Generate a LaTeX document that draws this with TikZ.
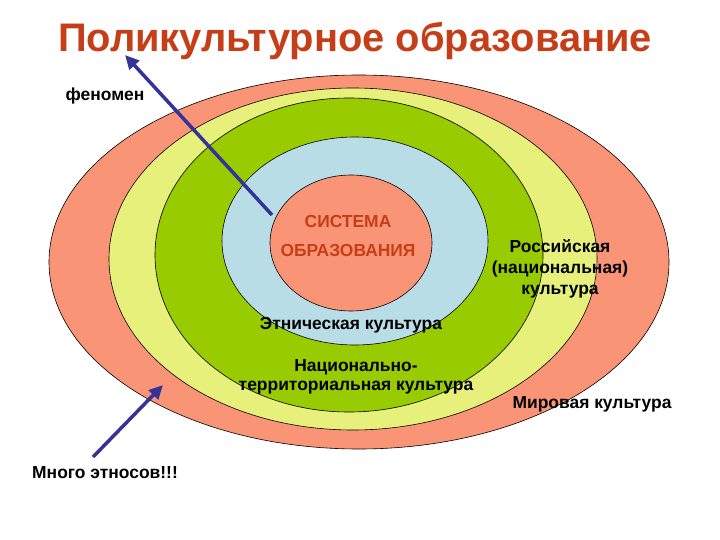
\documentclass[tikz,border=0pt]{standalone}
\usepackage{fontspec}
\setmainfont{Liberation Sans}
\usetikzlibrary{arrows.meta}
\definecolor{ringsalmon}{RGB}{250,148,118}
\definecolor{ringyellow}{RGB}{230,240,122}
\definecolor{ringgreen}{RGB}{153,204,0}
\definecolor{ringblue}{RGB}{185,221,230}
\definecolor{titlered}{RGB}{198,62,24}
\definecolor{arrowblue}{RGB}{51,51,153}
\tikzset{
	ring/.style={draw=black, line width=0.6bp},
	lbl/.style={font=\bfseries\fontsize{17.5}{21}\selectfont, align=center, inner sep=0pt},
	pointer/.style={draw=arrowblue, line width=3.5bp, -{Triangle[length=14bp,width=13bp]}}
}
\begin{document}
\begin{tikzpicture}[x=1bp,y=-1bp]
			%%%%% START %%%%%
			\useasboundingbox (0,0) rectangle (720,540);
			
			\draw[ring, fill=ringsalmon] (359,262) ellipse [x radius=310bp, y radius=187bp];
			\draw[ring, fill=ringyellow] (353,259) ellipse [x radius=244bp, y radius=171bp];
			\draw[ring, fill=ringgreen] (349,255) ellipse [x radius=194bp, y radius=157bp];
			\draw[ring, fill=ringblue] (355,241) ellipse [x radius=133bp, y radius=104bp];
			\draw[ring, fill=ringsalmon] (351,243) ellipse [x radius=81bp, y radius=68bp];
			
			\node[font=\bfseries\fontsize{40}{42}\selectfont, text=titlered, inner sep=0pt] (title) at (355,41) {Поликультурное образование};
			\node[lbl] (phenom) at (105,96) {феномен};
			\node[lbl, text=titlered, font=\bfseries\fontsize{17.5}{30}\selectfont] (system) at (348,236) {СИСТЕМА\\ОБРАЗОВАНИЯ};
			\node[lbl] (russian) at (560,269) {Российская\\(национальная)\\культура};
			\node[lbl] (ethnic) at (351,325) {Этническая культура};
			\node[lbl, font=\bfseries\fontsize{17.5}{19}\selectfont] (national) at (356,377) {Национально-\\территориальная культура};
			\node[lbl] (world) at (592,404) {Мировая культура};
			\node[lbl] (ethnos) at (105,473) {Много этносов!!!};
			
			\coordinate (tipA) at (125,55);
			\coordinate (tailA) at (272,215);
			\coordinate (tipB) at (163,385);
			\coordinate (tailB) at (93,457);
			\draw[pointer] (tailA) -- (tipA);
			\draw[pointer] (tailB) -- (tipB);
			%%%%% END %%%%%
\end{tikzpicture}
\end{document}
